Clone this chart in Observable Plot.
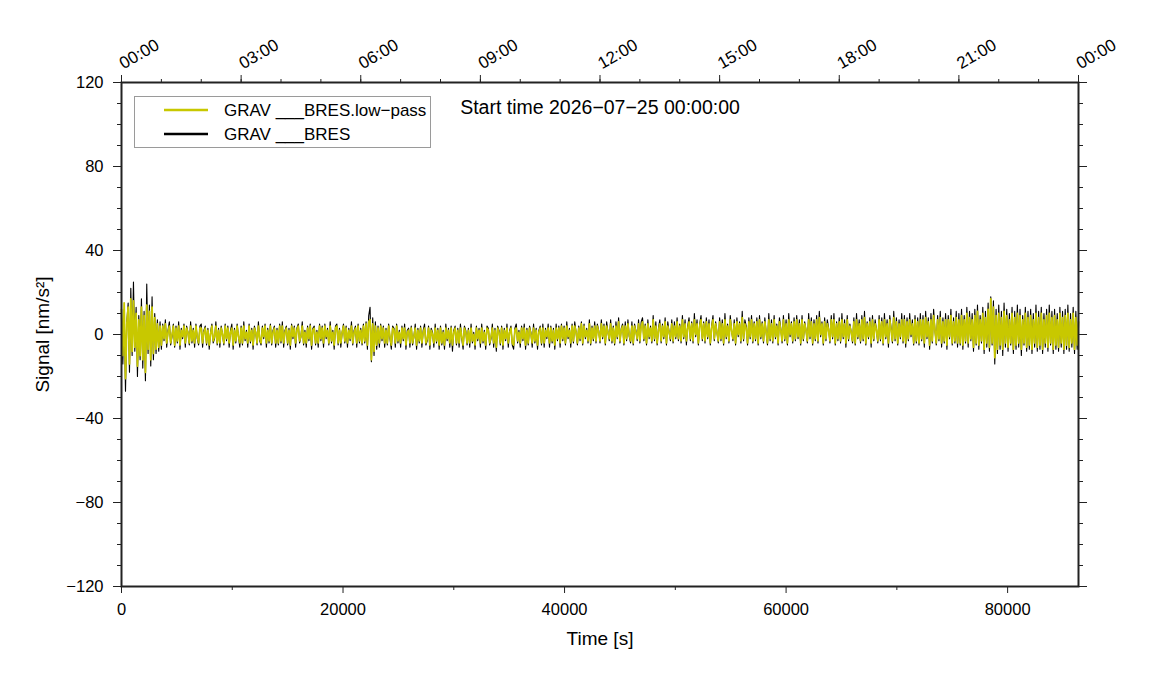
<!DOCTYPE html>
<html>
<head>
<meta charset="utf-8">
<script src="https://cdn.jsdelivr.net/npm/d3@7"></script>
<script src="https://cdn.jsdelivr.net/npm/@observablehq/plot@0.6"></script>
<style>
  html, body { margin: 0; padding: 0; background: #fff; }
  #wrap { position: relative; width: 1151px; height: 700px; font-family: "Liberation Sans", Arial, Helvetica, sans-serif; }
  #legend { position: absolute; left: 134px; top: 96px; width: 295px; height: 50px; border: 1px solid #9a9a9a; background: #fff; }
</style>
</head>
<body>
<div id="wrap"></div>
<script>
// ---- data ----
const sampleInterval = 120; // seconds between samples (one row = one hour)
// GRAV ___BRES (raw)
const blackSignal = [
  8, -14, 12, -27, 6, 15, -18, 22, -10, 25, -8, 13, -20, 9, -12, 17, -16, 11, -22, 24, -9, 14, -15, 18, -12, 10, -9, 7, -8, 6,
  -7, 5, -3, 7, -6, 2, 6, -5, -1, 5, -6, 4, -4, 6, -7, 3, -2, 5, -6, 4, 1, -5, 6, -4, 3, -6, 5, -2, -5, 4,
  5, -6, 2, 4, -5, 3, -7, 1, 5, -4, -2, 6, -5, 3, -6, 4, 0, -5, 5, -3, 4, -6, 2, 5, -7, 3, -4, 5, -1, -6,
  4, -5, 6, -3, 2, -6, 5, -4, 3, -7, 4, 1, -5, 6, -3, -5, 4, -2, 5, -6, 3, -4, 5, -5, 2, 4, -6, 3, -5, 5,
  -4, 6, -6, 2, 4, -5, 3, -7, 5, -2, 4, -6, 3, 5, -4, -1, 6, -5, 2, -6, 4, -3, 5, -7, 3, 4, -5, 2, -6, 5,
  -3, 4, -6, 5, -2, 3, -5, 6, -4, 2, -7, 4, 5, -5, 3, -6, 1, 5, -4, 4, -6, 3, -3, 6, -5, 2, 4, -6, 5, -4,
  3, -5, 5, -4, 6, -7, 9, 13, -13, 8, -10, 6, -7, 4, -6, 5, -3, 4, -6, 3, -5, 5, -2, -7, 4, 3, -6, 5, -4, 2,
  -6, 4, -3, 5, -7, 2, 3, -6, 4, -5, -1, 5, -7, 3, -4, 4, -6, 2, 5, -5, -3, 4, -7, 3, 1, -6, 5, -4, 3, -7,
  4, -5, 2, -7, 5, -3, 3, -6, 4, -8, 2, 4, -5, 3, -6, 5, -2, -7, 4, 2, -5, 3, -6, 5, -4, 1, -7, 4, -3, 3,
  -6, 5, -4, 2, -7, 4, 3, -5, -2, 5, -6, 3, -8, 4, 2, -5, 4, -7, 3, -3, 5, -6, 2, 4, -5, -7, 3, 5, -4, 2,
  -6, 4, -3, 5, -7, 3, -5, 4, 1, -6, 5, -4, 3, -7, 2, 4, -5, 5, -6, 3, -2, 5, -6, 4, -4, 3, -7, 5, -3, 4,
  -6, 5, -3, 4, -5, 6, -2, 3, -6, 5, -4, 6, 1, -5, 4, -3, 6, -5, 5, -2, 3, -4, 7, -5, 4, -3, 6, -4, 5, 2,
  -4, 7, -2, 5, -5, 6, 1, -3, 7, -4, 4, -5, 6, -2, 8, -4, 3, 5, -5, 6, -3, 7, -1, -4, 6, -5, 5, 2, -3, 7,
  -4, 6, 8, -3, 5, -5, 7, -2, 4, -4, 9, -3, 6, -5, 3, 7, -4, 5, -2, 8, -5, 6, 1, -3, 7, -4, 6, -2, 8, -3,
  5, -4, 9, -2, 7, -5, 4, 8, -3, 6, -4, 10, -1, 7, -5, 5, 9, -3, 6, -4, 8, -2, 7, -5, 4, 9, -3, 6, 1, -4,
  8, -3, 7, -5, 10, -2, 5, -4, 9, 2, -3, 7, -5, 8, -1, 6, -4, 11, -3, 7, 4, -5, 8, -2, 9, -4, 6, -3, 8, -5,
  9, -2, 6, -4, 8, 1, -5, 10, -3, 7, -4, 9, -2, 5, -5, 8, 3, -4, 9, -3, 7, -5, 10, -1, 6, -4, 8, -3, 9, -2,
  7, -5, 9, -3, 6, 2, -4, 10, -2, 8, -5, 7, -3, 9, -4, 11, -1, 6, -5, 8, -3, 7, 3, -4, 9, -2, 10, -5, 6, -3,
  8, -4, 10, -2, 7, -6, 9, -3, 5, 1, -4, 8, -5, 10, -2, 7, -4, 9, -3, 11, -5, 6, -2, 8, -6, 9, -3, 7, 2, -4,
  9, -3, 8, -5, 10, -2, 7, -6, 9, 3, -4, 11, -3, 8, -5, 7, -2, 10, -4, 9, -6, 8, -3, 10, -1, 7, -5, 9, -4, 8,
  -5, 10, -3, 9, -6, 11, -2, 8, -7, 10, -4, 12, 2, -5, 9, -3, 11, -6, 8, -4, 10, -7, 9, -2, 12, -5, 8, -4, 11, -6,
  10, -5, 12, -7, 9, -4, 13, -6, 11, -3, 10, -8, 12, -5, 14, -7, 9, -4, 13, -9, 11, -6, 15, -8, 18, -5, 16, -14, 12, -9,
  14, -7, 11, -10, 15, -6, 12, -8, 10, -5, 13, -9, 11, -7, 14, -6, 12, -10, 9, -5, 13, -8, 11, -7, 12, -9, 10, -6, 14, -8,
  11, -7, 13, -9, 10, -6, 12, -8, 14, -5, 11, -9, 12, -7, 10, -8, 13, -6, 11, -9, 12, -7, 14, -8, 10, -6, 13, -9, 11, -7,
  9
];
// GRAV ___BRES.low-pass
const lowpassSignal = [
  12, -10, 15, -21, 5, 13, -14, 17, -8, 16, -6, 10, -15, 7, -10, 13, -12, 9, -18, 14, -7, 11, -12, 13, -9, 8, -7, 5, -6, 4,
  -5, 4, -2, 5, -4, 1, 4, -4, 0, 4, -5, 3, -3, 4, -5, 2, -1, 4, -4, 3, 1, -4, 4, -3, 2, -4, 4, -1, -4, 3,
  3, -4, 1, 3, -4, 2, -5, 0, 4, -3, -1, 4, -4, 2, -4, 3, 0, -4, 4, -2, 3, -4, 1, 3, -5, 2, -3, 4, -1, -4,
  3, -4, 4, -2, 1, -4, 4, -3, 2, -5, 3, 1, -4, 4, -2, -4, 3, -1, 4, -4, 2, -3, 4, -4, 1, 3, -4, 2, -4, 4,
  -3, 4, -4, 1, 3, -4, 2, -5, 4, -1, 3, -4, 2, 4, -3, -1, 4, -4, 1, -4, 3, -2, 4, -5, 2, 3, -4, 1, -4, 4,
  -2, 3, -4, 4, -1, 2, -4, 4, -3, 1, -5, 3, 4, -4, 2, -4, 1, 4, -3, 3, -4, 2, -2, 4, -4, 1, 3, -4, 4, -3,
  2, -4, 4, -3, 5, -5, 6, 7, -12, 5, -8, 4, -5, 3, -4, 4, -2, 3, -4, 2, -4, 4, -1, -5, 3, 2, -4, 4, -3, 1,
  -4, 3, -2, 3, -5, 1, 2, -4, 3, -4, -1, 3, -5, 2, -3, 3, -4, 1, 3, -4, -2, 3, -5, 2, 0, -4, 3, -3, 2, -5,
  3, -4, 1, -5, 3, -2, 2, -4, 3, -5, 1, 3, -4, 2, -4, 3, -1, -5, 3, 1, -4, 2, -4, 3, -3, 0, -5, 3, -2, 2,
  -4, 3, -3, 1, -5, 3, 2, -4, -1, 3, -4, 2, -6, 3, 1, -4, 3, -5, 2, -2, 3, -4, 1, 3, -4, -5, 2, 3, -3, 1,
  -4, 3, -2, 3, -5, 2, -4, 3, 0, -4, 3, -3, 2, -5, 1, 3, -4, 3, -4, 2, -1, 3, -4, 3, -3, 2, -5, 3, -2, 3,
  -4, 4, -2, 3, -4, 4, -1, 2, -4, 4, -3, 4, 1, -4, 3, -2, 5, -4, 4, -1, 2, -3, 5, -4, 3, -2, 4, -3, 4, 1,
  -3, 5, -1, 4, -4, 4, 1, -2, 5, -3, 3, -4, 4, -1, 6, -3, 2, 4, -4, 4, -2, 5, 0, -3, 4, -4, 4, 1, -2, 5,
  -3, 4, 6, -2, 4, -4, 5, -1, 3, -3, 7, -2, 4, -4, 2, 5, -3, 4, -1, 6, -4, 4, 1, -2, 5, -3, 4, -1, 6, -2,
  4, -3, 7, -1, 5, -3, 3, 6, -2, 5, -3, 7, 0, 5, -4, 4, 7, -2, 5, -3, 6, -1, 5, -4, 3, 7, -2, 5, 1, -3,
  6, -2, 5, -4, 7, -1, 4, -3, 7, 2, -2, 5, -4, 6, 0, 5, -3, 8, -2, 5, 3, -4, 6, -1, 7, -3, 5, -2, 6, -4,
  7, -1, 5, -3, 6, 1, -4, 7, -2, 5, -3, 7, -1, 4, -4, 6, 2, -3, 7, -2, 5, -4, 7, 0, 5, -3, 6, -2, 7, -1,
  5, -4, 7, -2, 5, 2, -3, 7, -1, 6, -4, 5, -2, 7, -3, 8, 0, 5, -4, 6, -2, 5, 2, -3, 7, -1, 7, -4, 5, -2,
  6, -3, 7, -1, 5, -4, 7, -2, 4, 1, -3, 6, -4, 7, -1, 5, -3, 7, -2, 8, -4, 5, -1, 6, -4, 7, -2, 5, 2, -3,
  7, -2, 6, -4, 7, -1, 5, -4, 7, 2, -3, 8, -2, 6, -4, 5, -1, 7, -3, 7, -4, 6, -2, 7, 0, 5, -4, 7, -3, 6,
  -4, 7, -2, 7, -4, 8, -1, 6, -5, 7, -3, 9, 2, -4, 7, -2, 8, -4, 6, -3, 7, -5, 7, -1, 9, -4, 6, -3, 8, -4,
  7, -4, 9, -5, 7, -3, 10, -4, 8, -2, 7, -6, 9, -4, 11, -5, 7, -3, 10, -7, 8, -4, 12, -6, 17, -4, 13, -11, 9, -7,
  10, -5, 8, -7, 11, -4, 9, -6, 7, -4, 10, -7, 8, -5, 10, -4, 9, -7, 7, -4, 10, -6, 8, -5, 9, -7, 7, -4, 10, -6,
  8, -5, 10, -7, 7, -4, 9, -6, 10, -4, 8, -7, 9, -5, 7, -6, 10, -4, 8, -7, 9, -5, 10, -6, 7, -4, 10, -7, 8, -5,
  6
];
const seriesNames = ["GRAV ___BRES.low\u2212pass", "GRAV ___BRES"];
const seriesColors = ["#c8c800", "#000000"];
const xMajorTicks = [0, 20000, 40000, 60000, 80000];
const xMinorTicks = [10000, 30000, 50000, 70000];
const yMajorTicks = [-120, -80, -40, 0, 40, 80, 120];
const yMinorTicks = [-110, -100, -90, -70, -60, -50, -30, -20, -10, 10, 20, 30, 50, 60, 70, 90, 100, 110];
const hourTicks = [0,3600,7200,10800,14400,18000,21600,25200,28800,32400,36000,39600,43200,46800,50400,54000,57600,61200,64800,68400,72000,75600,79200,82800,86400];
const timeLabelSeconds = [0, 10800, 21600, 32400, 43200, 54000, 64800, 75600, 86400];
const timeLabels = ["00:00", "03:00", "06:00", "09:00", "12:00", "15:00", "18:00", "21:00", "00:00"];
const startTimeText = "Start time 2026\u221207\u221225 00:00:00";
const xTitle = "Time [s]";
const yTitle = "Signal [nm/s\u00b2]";

const rawRows = blackSignal.map((v, i) => ({t: i * sampleInterval, v}));
const lowRows = lowpassSignal.map((v, i) => ({t: i * sampleInterval, v}));

const font = "'Liberation Sans', Arial, Helvetica, sans-serif";

const chart = Plot.plot({
  width: 1151,
  height: 700,
  marginLeft: 121,
  marginRight: 73,
  marginTop: 82,
  marginBottom: 114,
  style: {fontFamily: font, fontSize: "16.5px", color: "#000", background: "#fff", overflow: "visible"},
  x: {domain: [0, 86400]},
  y: {domain: [-120, 120]},
  marks: [
    Plot.lineY(rawRows, {x: "t", y: "v", stroke: seriesColors[1], strokeWidth: 1.1}),
    Plot.lineY(lowRows, {x: "t", y: "v", stroke: seriesColors[0], strokeWidth: 1.8}),
    // left axis
    Plot.axisY({ticks: yMajorTicks, tickSize: 8, tickPadding: 10, label: null, stroke: "#222"}),
    Plot.axisY({ticks: yMinorTicks, tickSize: 4, tickFormat: () => "", label: null, stroke: "#222"}),
    // right axis
    Plot.axisY({anchor: "right", ticks: yMajorTicks, tickSize: 8, tickFormat: () => "", label: null, stroke: "#222"}),
    Plot.axisY({anchor: "right", ticks: yMinorTicks, tickSize: 4, tickFormat: () => "", label: null, stroke: "#222"}),
    // bottom axis
    Plot.axisX({ticks: xMajorTicks, tickSize: 7, tickPadding: 10, label: null, tickFormat: d3.format("d"), stroke: "#222"}),
    Plot.axisX({ticks: xMinorTicks, tickSize: 4, tickFormat: () => "", label: null, stroke: "#222"}),
    // top axis (clock time)
    Plot.axisX({anchor: "top", ticks: hourTicks, tickSize: 4, tickFormat: () => "", label: null, stroke: "#222"}),
    Plot.axisX({anchor: "top", ticks: timeLabelSeconds, tickSize: 8, tickFormat: () => "", label: null, stroke: "#222"}),
    Plot.text(timeLabelSeconds, {x: d => d, text: (d, i) => timeLabels[i], frameAnchor: "top", dx: 2, dy: -13, rotate: -30, textAnchor: "start", lineAnchor: "bottom", fontSize: 17}),
    Plot.frame({stroke: "#222", strokeWidth: 2}),
    Plot.text([startTimeText], {frameAnchor: "top", dy: 18, fontSize: 19.5, textAnchor: "middle"}),
    Plot.text([xTitle], {frameAnchor: "bottom", dy: 58, fontSize: 19, textAnchor: "middle"}),
    Plot.text([yTitle], {frameAnchor: "left", dx: -79, rotate: -90, fontSize: 19, textAnchor: "middle"})
  ]
});

const wrap = document.getElementById("wrap");
wrap.appendChild(chart);

// legend (inside the frame, top-left)
const legend = d3.select(wrap).append("div").attr("id", "legend");
const lsvg = legend.append("svg").attr("width", 295).attr("height", 50);
seriesNames.forEach((name, i) => {
  const y = 13 + i * 24;
  lsvg.append("line").attr("x1", 29).attr("x2", 73).attr("y1", y).attr("y2", y)
    .attr("stroke", seriesColors[i]).attr("stroke-width", 2.6);
  lsvg.append("text").attr("x", 89).attr("y", y).attr("dy", "0.35em")
    .attr("font-family", font).attr("font-size", 17).attr("fill", "#000").text(name);
});
</script>
</body>
</html>
